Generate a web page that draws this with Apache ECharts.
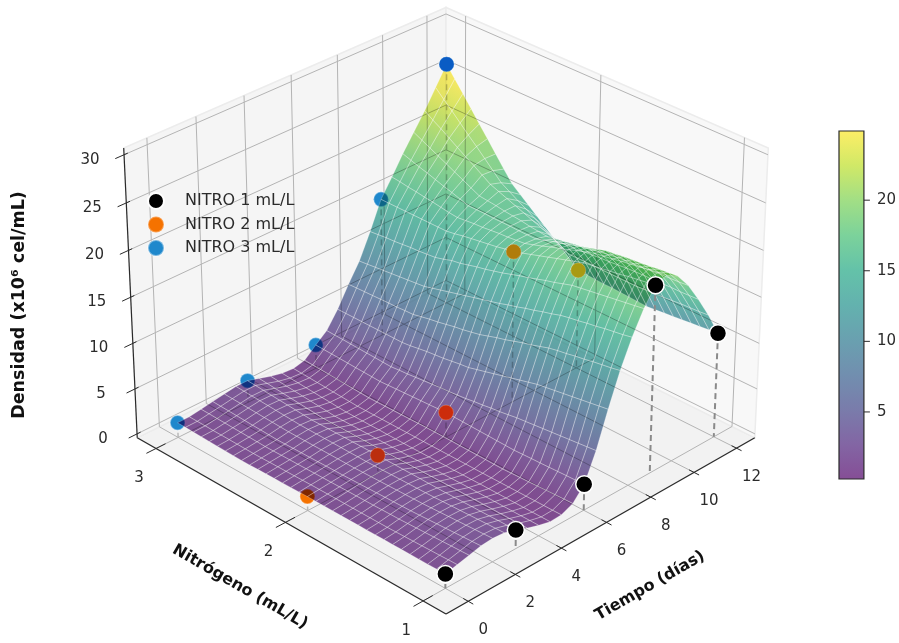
<!DOCTYPE html>
<html><head><meta charset="utf-8">
<style>html,body{margin:0;padding:0;background:#fff}#c{width:899px;height:643px}</style>
<script src="https://cdn.jsdelivr.net/npm/echarts@6/dist/echarts.min.js"></script>
</head><body><div id="c"></div>
<script>
const timeTicks=[0,2,4,6,8,10,12];
const nitroTicks=[1,2,3];
const densityTicks=[0,5,10,15,20,25,30];
const colorbarTicks=[5,10,15,20];
const sampleDays=[0,3,6,9,12];
const nitro1=[1.1,1.6,2.4,19.85,11];
const nitro2=[1.1,1.55,2.3,16.2,10.55];
const nitro3=[1.2,2.0,2.2,14.9,26.4];
const nitro2Over={1:'#bb2e0e',2:'#cc2c0c',3:'#b07c0a',4:'#a89a12'};
const nitro3Over={4:'#0a5cc4'};
const surfaceDays=[0,.5,1,1.5,2,2.5,3,3.5,4,4.5,5,5.5,6,6.5,7,7.5,8,8.5,9,9.5,10,10.5,11,11.5,12];
const surfaceNitro=[1,1.0625,1.125,1.1875,1.25,1.3125,1.375,1.4375,1.5,1.5625,1.625,1.6875,1.75,1.8125,1.875,1.9375,2,2.0625,2.125,2.1875,2.25,2.3125,2.375,2.4375,2.5,2.5625,2.625,2.6875,2.75,2.8125,2.875,2.9375,3];
const surfaceDensity=[
[1.1,1.4,1.7,2,2.1,2,1.6,1.1,.7,.4,.45,1,2.4,5.4,9.2,12.7,15.6,18,19.85,20.3,19.6,18,15.9,13.6,11],
[1.1,1.38,1.66,1.95,2.05,1.96,1.59,1.1,.7,.4,.44,.96,2.36,5.3,9.05,12.5,15.4,17.85,19.7,20.15,19.5,17.9,15.85,13.5,10.9],
[1.1,1.35,1.63,1.9,2,1.93,1.58,1.1,.7,.4,.44,.93,2.33,5.2,8.9,12.35,15.25,17.7,19.55,20,19.4,17.85,15.8,13.45,10.8],
[1.1,1.33,1.59,1.85,1.95,1.89,1.56,1.1,.7,.4,.43,.89,2.29,5.1,8.75,12.2,15.1,17.55,19.4,19.8,19.25,17.8,15.8,13.4,10.7],
[1.1,1.3,1.55,1.8,1.9,1.85,1.55,1.1,.7,.4,.43,.85,2.25,5,8.6,12,14.9,17.4,19.2,19.65,19.15,17.7,15.75,13.3,10.6],
[1.1,1.28,1.51,1.75,1.85,1.81,1.54,1.1,.7,.4,.42,.81,2.21,4.9,8.45,11.85,14.75,17.25,19.05,19.5,19.05,17.6,15.7,13.2,10.5],
[1.1,1.25,1.48,1.7,1.8,1.78,1.53,1.1,.7,.4,.41,.78,2.18,4.8,8.3,11.65,14.55,17.1,18.9,19.3,18.95,17.55,15.7,13.15,10.4],
[1.1,1.23,1.44,1.65,1.75,1.74,1.51,1.1,.7,.4,.41,.74,2.14,4.7,8.15,11.5,14.4,16.95,18.75,19.15,18.8,17.5,15.65,13.1,10.3],
[1.1,1.2,1.4,1.6,1.7,1.7,1.5,1.1,.7,.4,.4,.7,2.1,4.6,8,11.3,14.2,16.8,18.6,19,18.7,17.4,15.6,13,10.2],
[1.1,1.2,1.39,1.58,1.68,1.68,1.51,1.09,.69,.39,.4,.71,2.13,4.5,7.75,11,13.9,16.5,18.3,18.7,18.4,17.25,15.5,13,10.25],
[1.1,1.2,1.38,1.55,1.65,1.66,1.51,1.08,.68,.39,.4,.73,2.15,4.35,7.5,10.7,13.65,16.2,18,18.4,18.1,17.1,15.4,13,10.3],
[1.1,1.2,1.36,1.53,1.63,1.64,1.52,1.06,.66,.38,.4,.74,2.18,4.2,7.25,10.45,13.35,15.95,17.7,18.05,17.85,16.9,15.35,13,10.35],
[1.1,1.2,1.35,1.5,1.6,1.63,1.53,1.05,.65,.38,.4,.75,2.2,4.1,7,10.15,13.1,15.65,17.4,17.75,17.55,16.75,15.25,13,10.4],
[1.1,1.2,1.34,1.48,1.58,1.61,1.53,1.04,.64,.37,.4,.76,2.23,3.95,6.75,9.85,12.8,15.35,17.1,17.45,17.25,16.6,15.15,13,10.4],
[1.1,1.2,1.33,1.45,1.55,1.59,1.54,1.03,.63,.36,.4,.78,2.25,3.85,6.5,9.6,12.55,15.1,16.8,17.1,17,16.4,15.05,13,10.45],
[1.1,1.2,1.31,1.43,1.53,1.57,1.55,1.01,.61,.36,.4,.79,2.28,3.7,6.25,9.3,12.25,14.8,16.5,16.8,16.7,16.25,15,13,10.5],
[1.1,1.2,1.3,1.4,1.5,1.55,1.55,1,.6,.35,.4,.8,2.3,3.6,6,9,12,14.5,16.2,16.5,16.4,16.1,14.9,13,10.55],
[1.09,1.19,1.29,1.39,1.5,1.56,1.54,1,.6,.36,.4,.79,2.25,3.5,5.9,8.8,11.75,14.25,16.05,16.4,16.4,16.2,15.25,13.55,11.3],
[1.08,1.18,1.28,1.38,1.5,1.56,1.54,1,.6,.36,.4,.78,2.2,3.45,5.75,8.6,11.5,14,15.85,16.3,16.4,16.3,15.6,14.1,12.05],
[1.06,1.16,1.26,1.36,1.5,1.57,1.53,1,.6,.37,.4,.76,2.15,3.35,5.6,8.45,11.25,13.8,15.7,16.25,16.45,16.45,15.95,14.6,12.85],
[1.05,1.15,1.25,1.35,1.5,1.58,1.53,1,.6,.38,.4,.75,2.1,3.25,5.5,8.25,11,13.55,15.55,16.15,16.45,16.55,16.3,15.15,13.6],
[1.04,1.14,1.24,1.34,1.5,1.58,1.52,1,.6,.38,.4,.74,2.05,3.15,5.4,8.05,10.75,13.3,15.4,16.05,16.45,16.65,16.65,15.7,14.35],
[1.03,1.13,1.23,1.33,1.5,1.59,1.51,1,.6,.39,.4,.73,2,3.05,5.25,7.9,10.5,13.15,15.25,16,16.5,16.8,17,16.2,15.1],
[1.01,1.11,1.21,1.31,1.5,1.59,1.51,1,.6,.39,.4,.71,1.95,3,5.1,7.7,10.25,12.85,15.05,15.9,16.5,16.9,17.35,16.75,15.85],
[1,1.1,1.2,1.3,1.5,1.6,1.5,1,.6,.4,.4,.7,1.9,2.9,5,7.5,10,12.6,14.9,15.8,16.5,17,17.7,17.3,16.6],
[1.03,1.11,1.23,1.34,1.54,1.65,1.56,1.08,.68,.46,.45,.75,1.94,2.94,5,7.46,9.9,12.5,14.9,15.9,16.8,17.45,18.3,18.2,17.8],
[1.05,1.13,1.25,1.38,1.58,1.7,1.63,1.15,.75,.53,.5,.8,1.98,2.98,5,7.4,9.8,12.4,14.9,16.05,17.1,17.9,18.9,19.1,19.05],
[1.08,1.14,1.28,1.41,1.61,1.75,1.69,1.23,.83,.59,.55,.85,2.01,3.01,5,7.39,9.7,12.35,14.9,16.2,17.35,18.35,19.45,20,20.3],
[1.1,1.15,1.3,1.45,1.65,1.8,1.75,1.3,.9,.65,.6,.9,2.05,3.05,5,7.35,9.6,12.25,14.9,16.3,17.65,18.8,20.05,20.85,21.5],
[1.13,1.16,1.33,1.49,1.69,1.85,1.81,1.38,.98,.71,.65,.95,2.09,3.09,5,7.31,9.5,12.15,14.9,16.45,17.95,19.25,20.65,21.75,22.75],
[1.15,1.18,1.35,1.53,1.73,1.9,1.88,1.45,1.05,.78,.7,1,2.13,3.13,5,7.28,9.4,12.1,14.9,16.55,18.2,19.7,21.25,22.65,24],
[1.18,1.19,1.38,1.56,1.76,1.95,1.94,1.53,1.13,.84,.75,1.05,2.16,3.16,5,7.24,9.3,12,14.9,16.7,18.5,20.15,21.8,23.5,25.2],
[1.2,1.2,1.4,1.6,1.8,2,2,1.6,1.2,.9,.8,1.1,2.2,3.2,5,7.2,9.2,11.9,14.9,16.8,18.8,20.6,22.4,24.4,26.4]
];
const viridis=[[82,2,105],[78,36,125],[65,68,135],[53,95,141],[42,120,142],[33,145,140],[34,168,132],[68,191,112],[122,209,81],[189,223,38],[253,231,37]];
const colorMin=0.25,colorMax=24.9,surfaceAlpha=0.7;
const tLim=[-0.93,12.87],nLim=[0.84,3.15],zLim=[-0.44,30.7];
const view={elev:30*Math.PI/180,dist:8.75,scale:446,cx:446,cy:296};

function project(t,n,z){
  const X=(t-tLim[0])/(tLim[1]-tLim[0])-.5,Y=(n-nLim[0])/(nLim[1]-nLim[0])-.5,Z=(z-zLim[0])/(zLim[1]-zLim[0])*.75-.375;
  const se=Math.sin(view.elev),ce=Math.cos(view.elev),r=Math.SQRT1_2;
  const u=(X-Y)*r,v=(X+Y)*r*se+Z*ce,d=-(X+Y)*r*ce+Z*se,f=view.dist/(view.dist-d);
  return [view.cx+view.scale*u*f,view.cy-view.scale*v*f,d];
}
function colorAt(z){
  const p=Math.min(1,Math.max(0,(z-colorMin)/(colorMax-colorMin)))*(viridis.length-1),i=Math.min(viridis.length-2,Math.floor(p)),k=p-i;
  const c=viridis[i].map((v,j)=>Math.round((v+(viridis[i+1][j]-v)*k)*surfaceAlpha+255*(1-surfaceAlpha)));
  return `rgb(${c[0]},${c[1]},${c[2]})`;
}
const axisDark='#2a2a2a',gridGray='#b4b4b4',textCol='#2b2b2b',fontName='"DejaVu Sans"';
const frame=[];
const poly=(pts,fill,stroke)=>frame.push({k:'p',pts,fill,stroke});
const line=(a,b,stroke,w)=>frame.push({k:'l',a,b,stroke,w});
const label=(pt,dx,dy,text)=>frame.push({k:'t',pt,dx,dy,text});
const [t0,t1]=tLim,[n0,n1]=nLim,[z0,z1]=zLim;
poly([[t0,n0,z0],[t1,n0,z0],[t1,n1,z0],[t0,n1,z0]],'#f2f2f2','#ececec');
poly([[t0,n1,z0],[t1,n1,z0],[t1,n1,z1],[t0,n1,z1]],'#f5f5f5','#ececec');
poly([[t1,n0,z0],[t1,n1,z0],[t1,n1,z1],[t1,n0,z1]],'#f8f8f8','#ececec');
timeTicks.forEach(t=>{line([t,n0,z0],[t,n1,z0],gridGray,1);line([t,n1,z0],[t,n1,z1],gridGray,1);});
nitroTicks.forEach(n=>{line([t0,n,z0],[t1,n,z0],gridGray,1);line([t1,n,z0],[t1,n,z1],gridGray,1);});
densityTicks.forEach(z=>{line([t0,n1,z],[t1,n1,z],gridGray,1);line([t1,n1,z],[t1,n0,z],gridGray,1);});
const axes=[];
axes.push([[t0,n0,z0],[t1,n0,z0]],[[t0,n0,z0],[t0,n1,z0]],[[t0,n1,z0],[t0,n1,z1]]);
axes.forEach(a=>line(a[0],a[1],axisDark,1.2));
timeTicks.forEach(t=>{line([t,n0-.035,z0],[t,n0+.035,z0],axisDark,1);label(project(t,n0,z0),15,29,String(t));});
nitroTicks.forEach(n=>{line([t0-.4,n,z0],[t0+.4,n,z0],axisDark,1);label(project(t0,n,z0),-17,30,String(n));});
densityTicks.forEach(z=>{line([t0-.35,n1,z],[t0+.15,n1,z],axisDark,1);label(project(t0,n1,z),-34,5,String(z));});

const cells=[];
for(let j=0;j<surfaceNitro.length-1;j++)for(let i=0;i<surfaceDays.length-1;i++){
  const c=[[i,j],[i+1,j],[i+1,j+1],[i,j+1]].map(([a,b])=>[surfaceDays[a],surfaceNitro[b],surfaceDensity[b][a]]);
  const avg=c.reduce((s,p)=>s+p[2],0)/4;
  const mid=project((c[0][0]+c[1][0])/2,(c[0][1]+c[2][1])/2,avg);
  cells.push({c,avg,d:mid[2]});
}
cells.sort((a,b)=>a.d-b.d);

const xy=p=>{const q=project(p[0],p[1],p[2]);return [q[0],q[1]];};
function dropSeries(name,vals,nitro,color,width,z){
  return {type:'custom',name,coordinateSystem:'cartesian2d',xAxisIndex:0,yAxisIndex:0,silent:true,z,clip:false,
    data:vals.map((v,i)=>[sampleDays[i],nitro,v]),
    encode:{x:0,y:1},
    renderItem(params,api){
      const v=vals[params.dataIndex],t=sampleDays[params.dataIndex];
      const a=api.coord(xy([t,nitro,v])),b=api.coord(xy([t,nitro,z0]));
      return {type:'line',shape:{x1:a[0],y1:a[1],x2:b[0],y2:b[1]},style:{stroke:color,lineWidth:width,lineDash:[6,4]}};
    }};
}
function dotSeries(name,vals,nitro,color,border,size,z){
  return {type:'scatter',name,xAxisIndex:0,yAxisIndex:0,silent:true,z,symbolSize:size,clip:false,
    itemStyle:{color,borderColor:border,borderWidth:1.5,opacity:1},
    data:vals.map((v,i)=>xy([sampleDays[i],nitro,v]))};
}
function overSeries(name,vals,nitro,colors,z){
  const idx=Object.keys(colors).map(Number);
  return {type:'scatter',name,xAxisIndex:0,yAxisIndex:0,silent:true,z,symbolSize:15,clip:false,
    itemStyle:{borderColor:'rgba(255,255,255,.25)',borderWidth:1,opacity:1},
    data:idx.map(i=>({value:xy([sampleDays[i],nitro,vals[i]]),itemStyle:{color:colors[i]}}))};
}
const option={
  animation:false,backgroundColor:'#ffffff',
  textStyle:{fontFamily:fontName},
  grid:[{left:0,right:0,top:0,bottom:0},{left:839,top:131,width:28,height:348}],
  xAxis:[{type:'value',min:0,max:899,show:false},{type:'value',gridIndex:1,min:0,max:1,show:false}],
  yAxis:[{type:'value',min:0,max:643,inverse:true,show:false},
    {type:'value',gridIndex:1,position:'right',min:colorMin,max:colorMax,
     axisLine:{show:false},splitLine:{show:false},axisTick:{show:false},
     axisLabel:{show:true,margin:13,fontSize:15,color:textCol,fontFamily:fontName,customValues:colorbarTicks}}],
  legend:{orient:'vertical',left:147,top:192,padding:0,itemWidth:16,itemHeight:16,itemGap:5.5,icon:'circle',
    textStyle:{fontSize:16,lineHeight:16,color:textCol,fontFamily:fontName,padding:[0,0,0,16]},
    selectedMode:false,data:['NITRO 1 mL/L','NITRO 2 mL/L','NITRO 3 mL/L']},
  series:[
   {type:'custom',name:'frame',silent:true,z:1,clip:false,xAxisIndex:0,yAxisIndex:0,data:frame.map((f,i)=>[i,i]),encode:{x:0,y:1},
    renderItem(params,api){
      const f=frame[params.dataIndex];
      if(f.k==='p')return {type:'polygon',shape:{points:f.pts.map(p=>api.coord(xy(p)))},style:{fill:f.fill,stroke:f.stroke,lineWidth:1.5}};
      if(f.k==='l'){const a=api.coord(xy(f.a)),b=api.coord(xy(f.b));return {type:'line',shape:{x1:a[0],y1:a[1],x2:b[0],y2:b[1]},style:{stroke:f.stroke,lineWidth:f.w}};}
      const p=api.coord([f.pt[0]+f.dx,f.pt[1]+f.dy]);
      return {type:'text',x:p[0],y:p[1],style:{text:f.text,fill:textCol,font:'15px '+fontName,textAlign:'center',textVerticalAlign:'middle'}};
    }},
   dropSeries('drop2',nitro2,2,'rgba(175,175,175,.85)',1.5,2),
   dropSeries('drop3',nitro3,3,'rgba(175,175,175,.85)',1.5,2),
   dotSeries('NITRO 2 mL/L',nitro2,2,'#f57200','rgba(255,255,255,.3)',15,2),
   dotSeries('NITRO 3 mL/L',nitro3,3,'#1f88cc','rgba(255,255,255,.4)',15,2),
   {type:'custom',name:'surface',silent:true,z:3,clip:false,blendMode:'multiply',xAxisIndex:0,yAxisIndex:0,data:cells.map((c,i)=>[i,i]),encode:{x:0,y:1},
    renderItem(params,api){
      const cell=cells[params.dataIndex],pts=cell.c.map(p=>api.coord(xy(p)));
      const c=cell.c,a=api.coord(xy([c[0][0],(c[0][1]+c[3][1])/2,(c[0][2]+c[3][2])/2])),b=api.coord(xy([c[1][0],(c[1][1]+c[2][1])/2,(c[1][2]+c[2][2])/2]));
      return {type:'polygon',shape:{points:pts},style:{fill:new echarts.graphic.LinearGradient(a[0],a[1],b[0],b[1],[{offset:0,color:colorAt((c[0][2]+c[3][2])/2)},{offset:1,color:colorAt((c[1][2]+c[2][2])/2)}],true)}};
    }},
   {type:'custom',name:'wire',silent:true,z:3.5,clip:false,xAxisIndex:0,yAxisIndex:0,data:cells.map((c,i)=>[i,i]),encode:{x:0,y:1},
    renderItem(params,api){
      const pts=cells[params.dataIndex].c.map(p=>api.coord(xy(p)));
      return {type:'polygon',shape:{points:pts},style:{fill:'none',stroke:'rgba(255,255,255,.33)',lineWidth:.7}};
    }},
   overSeries('over2',nitro2,2,nitro2Over,4),
   overSeries('over3',nitro3,3,nitro3Over,4),
   dropSeries('drop1',nitro1,1,'#8a8a8a',2,4),
   dotSeries('NITRO 1 mL/L',nitro1,1,'#000000','#ffffff',17,5),
   {type:'custom',name:'colorbar',silent:true,z:2,clip:false,xAxisIndex:1,yAxisIndex:1,data:colorbarTicks.map(v=>[1,v]),encode:{x:0,y:1},
    renderItem(params,api){
      const v=colorbarTicks[params.dataIndex],p=api.coord([1,v]);
      const tick={type:'line',shape:{x1:p[0],y1:p[1],x2:p[0]+6,y2:p[1]},style:{stroke:axisDark,lineWidth:1}};
      if(params.dataIndex)return tick;
      const a=api.coord([0,colorMax]),b=api.coord([1,colorMin]);
      return {type:'group',children:[tick,{type:'rect',shape:{x:a[0],y:a[1],width:b[0]-a[0],height:b[1]-a[1]},
        style:{fill:new echarts.graphic.LinearGradient(0,1,0,0,viridis.map((c,i)=>({offset:i/(viridis.length-1),color:`rgba(${c[0]},${c[1]},${c[2]},${surfaceAlpha})`}))),stroke:axisDark,lineWidth:1.2}}]};
    }},
   {type:'custom',name:'titles',silent:true,z:6,clip:false,xAxisIndex:0,yAxisIndex:0,data:[[0,0],[1,1],[2,2]],encode:{x:0,y:1},
    renderItem(params,api){
      const items=[['Tiempo (días)',650,586,Math.PI/6,16],['Nitrógeno (mL/L)',240,587,-Math.PI/6,16],['Densidad (x10⁶ cel/mL)',19,305,Math.PI/2,17.5]];
      const it=items[params.dataIndex],p=api.coord([it[1],it[2]]);
      return {type:'text',x:p[0],y:p[1],rotation:it[3],style:{text:it[0],fill:'#111',font:'bold '+it[4]+'px '+fontName,textAlign:'center',textVerticalAlign:'middle'}};
    }}
  ]
};
const chart=echarts.init(document.getElementById('c'),null,{renderer:'canvas'});
chart.setOption(option);
</script></body></html>
